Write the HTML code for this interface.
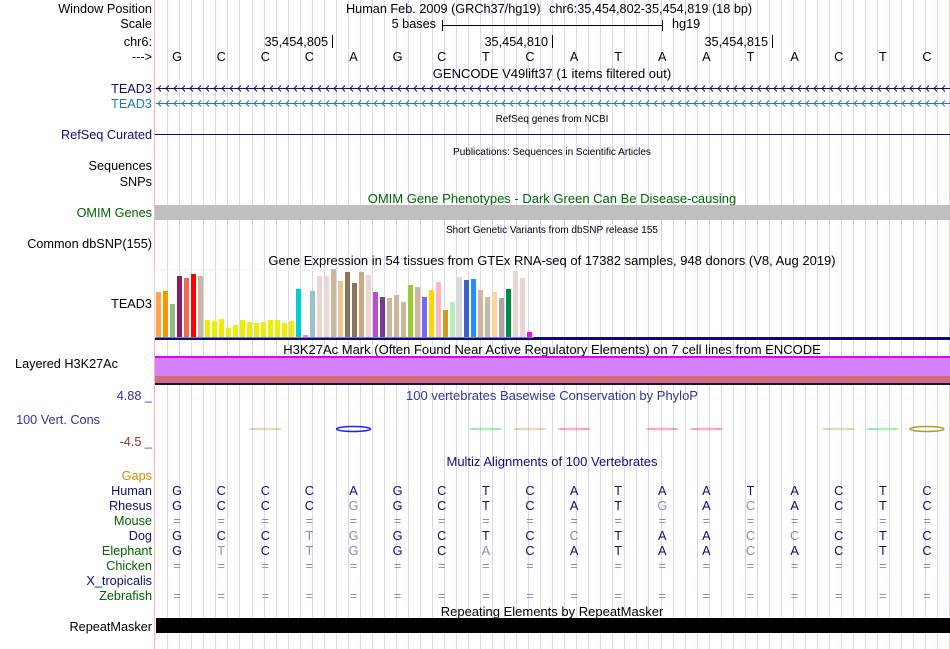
<!DOCTYPE html>
<html><head><meta charset="utf-8">
<style>
body{margin:0;background:#fff;}
svg{display:block;font-family:"Liberation Sans",sans-serif;}
</style></head>
<body>
<svg id="c" width="950" height="649" viewBox="0 0 950 649" xmlns="http://www.w3.org/2000/svg">
<g id="grid"></g>
<line x1="154.5" y1="0" x2="154.5" y2="649" stroke="#ffb4b4"/>
<g font-size="12.7" text-anchor="end">
<text x="152" y="13">Window Position</text>
<text x="152" y="28">Scale</text>
<text x="152" y="46">chr6:</text>
<text x="152" y="61">---&gt;</text>
<text x="152" y="93" fill="#0c0c78">TEAD3</text>
<text x="152" y="108" fill="#1e78b8">TEAD3</text>
<text x="152" y="139" fill="#0c0c78">RefSeq Curated</text>
<text x="152" y="170">Sequences</text>
<text x="152" y="186">SNPs</text>
<text x="152" y="217" fill="#006400">OMIM Genes</text>
<text x="152" y="248">Common dbSNP(155)</text>
<text x="152" y="308">TEAD3</text>
<text x="118" y="368">Layered H3K27Ac</text>
<text x="152" y="400" fill="#333399">4.88 _</text>
<text x="100" y="424" fill="#333399">100 Vert. Cons</text>
<text x="152" y="446" fill="#993333">-4.5 _</text>
<text x="152" y="480" fill="#e08a00">Gaps</text>
<text x="152" y="631">RepeatMasker</text>
</g>
<g id="species" font-size="12.7" text-anchor="end"></g>
<g font-size="12.7">
<text x="346" y="13">Human Feb. 2009 (GRCh37/hg19)</text>
<text x="549" y="13">chr6:35,454,802-35,454,819 (18 bp)</text>
<text x="436" y="28" text-anchor="end">5 bases</text>
<line x1="442.5" y1="20" x2="442.5" y2="31" stroke="#000"/>
<line x1="442" y1="25.5" x2="663" y2="25.5" stroke="#000"/>
<line x1="662.5" y1="20" x2="662.5" y2="31" stroke="#000"/>
<text x="672" y="28">hg19</text>
<text x="328" y="46" text-anchor="end">35,454,805</text>
<line x1="332.5" y1="35" x2="332.5" y2="48" stroke="#000"/>
<text x="548" y="46" text-anchor="end">35,454,810</text>
<line x1="552.5" y1="35" x2="552.5" y2="48" stroke="#000"/>
<text x="768" y="46" text-anchor="end">35,454,815</text>
<line x1="772.5" y1="35" x2="772.5" y2="48" stroke="#000"/>
</g>
<g id="bases" font-size="12.7" text-anchor="middle"></g>
<g text-anchor="middle">
<text x="552" y="78" font-size="13">GENCODE V49lift37 (1 items filtered out)</text>
<text x="552" y="122" font-size="10">RefSeq genes from NCBI</text>
<text x="552" y="155" font-size="10">Publications: Sequences in Scientific Articles</text>
<text x="552" y="203" font-size="13" fill="#006400">OMIM Gene Phenotypes - Dark Green Can Be Disease-causing</text>
<text x="552" y="233" font-size="10">Short Genetic Variants from dbSNP release 155</text>
<text x="552" y="265" font-size="13">Gene Expression in 54 tissues from GTEx RNA-seq of 17382 samples, 948 donors (V8, Aug 2019)</text>
<text x="552" y="354" font-size="13">H3K27Ac Mark (Often Found Near Active Regulatory Elements) on 7 cell lines from ENCODE</text>
<text x="552" y="400" font-size="13" fill="#333399">100 vertebrates Basewise Conservation by PhyloP</text>
<text x="552" y="466" font-size="13" fill="#0c0c78">Multiz Alignments of 100 Vertebrates</text>
<text x="552" y="616" font-size="13">Repeating Elements by RepeatMasker</text>
</g>
<g id="genes"></g>
<line x1="155" y1="134.5" x2="950" y2="134.5" stroke="#0c0c78"/>
<rect x="155" y="205" width="795" height="15" fill="#bebebe"/>
<rect x="155" y="337" width="795" height="3" fill="#0c0c78"/>
<rect x="155" y="270" width="378" height="67" fill="none" stroke="#f0f0f0"/>
<g id="gtex"></g>
<rect x="155" y="356" width="795" height="2" fill="#dd00ff"/>
<rect x="155" y="358" width="795" height="18" fill="#d580ff"/>
<rect x="155" y="376" width="795" height="7" fill="#d46a7e"/>
<rect x="155" y="383" width="795" height="2" fill="#1a1040"/>
<g id="phylop"></g>
<g id="align" font-size="12.7" text-anchor="middle"></g>
<rect x="156" y="618" width="794" height="15" fill="#000"/>
</svg>
<script>
const NS="http://www.w3.org/2000/svg";
const bases="GCCCAGCTCATAATACTC";
const speciesNames=["Human","Rhesus","Mouse","Dog","Elephant","Chicken","X_tropicalis","Zebrafish"];
const speciesColors=["#0c0c78","#0c0c78","#006400","#0c0c78","#006400","#006400","#0c0c78","#006400"];
// uppercase = match (dark), lowercase = mismatch (gray), "=" gap, " " none
const speciesSeqs=["GCCCAGCTCATAATACTC","GCCCgGCTCATgAcACTC","==================","GCCtgGCTCcTAAccCTC","GtCtgGCaCATAAcACTC","==================","                  ","=================="];
const gtexValues=[45,46,33,61,59,63,61,17,16,18,9,12,17,15,14,15,17,17,14,16,48,2,46,61,61,68,56,65,54,65,62,45,40,39,42,35,52,50,40,47,55,27,35,60,57,58,47,40,45,39,48,66,59,5];
const gtexColors=["#FFA54F","#EE9A00","#8FBC8F","#8B1C62","#EE6A50","#FF0000","#CDB79E","#EEEE00","#EEEE00","#EEEE00","#EEEE00","#EEEE00","#EEEE00","#EEEE00","#EEEE00","#EEEE00","#EEEE00","#EEEE00","#EEEE00","#EEEE00","#00CED1","#EE82EE","#9AC0CD","#EED5D2","#EED5D2","#CDB79E","#EEC591","#8B7355","#8B7355","#CDAA7D","#EED5D2","#B452CD","#7A378B","#CDB79E","#CDB79E","#CDB79E","#9ACD32","#CDB79E","#7B68EE","#FFD700","#FFB6C1","#CD9B1D","#B4EEB4","#D9D9D9","#3A5FCD","#1E90FF","#CDB79E","#CDB79E","#FFD39B","#A6A6A6","#008B45","#EED5D2","#EED5D2","#FF00FF"];
const phylopPos=[2,4,7,8,9,11,12,15,16,17];
const phylopColors=["#b0a020","#2020ff","#00dd00","#b0a020","#ee2020","#ee2020","#ee2020","#b0a020","#00dd00","#b0a020"];

const x0=155,bw=794/18;
const bx=i=>x0+bw*(i+0.5);
const gy=v=>337-v;
function mk(tag,attrs,parent,txt){const e=document.createElementNS(NS,tag);for(const k in attrs)e.setAttribute(k,attrs[k]);if(txt!==undefined)e.textContent=txt;document.getElementById(parent).appendChild(e);return e;}

for(let x=167.3;x<950;x+=12.03){
 const l=mk("line",{x1:Math.round(x)+.5,y1:0,x2:Math.round(x)+.5,y2:649,stroke:"#d8d8f4"},"grid");
 
 
}
for(let i=0;i<bases.length;i++){
 const t=mk("text",{x:bx(i),y:61},"bases",bases[i]);
 
 
}
[[88,"#0c0c78"],[103,"#1e78b8"]].forEach(([y,c])=>{
 const l=mk("line",{x1:156,y1:y+.5,x2:950,y2:y+.5,stroke:c},"genes");
 
 
 let d="";
 for(let x=158;x<948;x+=8){d+=`M${x+3},${y-2.5}L${x},${y+.5}L${x+3},${y+3.5}`;}
 const p=mk("path",{d:d,stroke:c,fill:"none","stroke-width":1},"genes");
 
 
});
for(let i=0;i<gtexValues.length;i++){
 const r=mk("rect",{x:156+i*7,y:gy(gtexValues[i]),width:5,height:gtexValues[i],fill:gtexColors[i]},"gtex");
 
 
}
for(let k=0;k<phylopPos.length;k++){
 const i=phylopPos[k],c=phylopColors[k];
 const big=(c==="#2020ff"||k===phylopPos.length-1);
 const e=mk("ellipse",{cx:bx(i),cy:429,rx:big?17:16,ry:big?2.5:0.8,fill:"none",stroke:c,"stroke-width":big?1.5:0.8,opacity:big?1:0.5},"phylop");
 
 
}
for(let s=0;s<speciesNames.length;s++){
 const y=495+s*15;
 const t=mk("text",{x:152,y:y,fill:speciesColors[s]},"species",speciesNames[s]);
 
 
 for(let i=0;i<18;i++){
  const ch=speciesSeqs[s][i];
  if(ch===" ")continue;
  const gray=(ch==="="||ch!==ch.toUpperCase());
  const a=mk("text",{x:bx(i),y:y,fill:gray?"#8a8ab8":"#0c0c78"},"align",ch.toUpperCase());
  
  
 }
}
</script>
</body></html>
